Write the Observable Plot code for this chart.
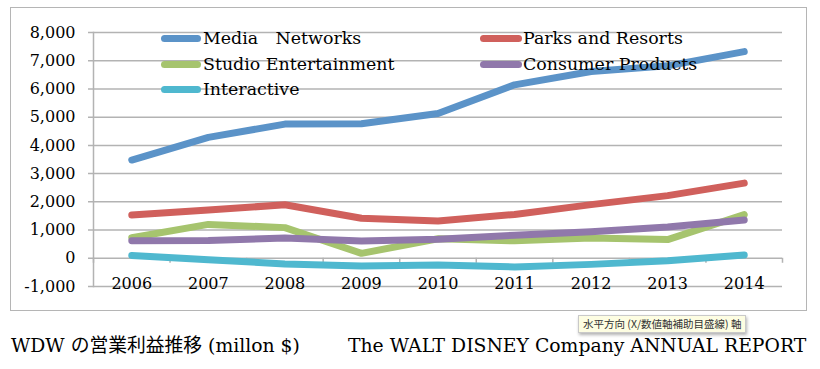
<!DOCTYPE html>
<html><head><meta charset="utf-8">
<script src="https://cdn.jsdelivr.net/npm/d3@7"></script>
<script src="https://cdn.jsdelivr.net/npm/@observablehq/plot@0.6"></script>
<style>
html,body{margin:0;padding:0;background:#fff;}
#wrap{position:relative;width:820px;height:369px;overflow:hidden;font-family:"DejaVu Serif","Noto Sans CJK JP",serif;color:#000;}
#box{position:absolute;left:10px;top:7px;width:797px;height:304px;border:1.5px solid #b5b5b5;box-sizing:border-box;}
#chart{position:absolute;left:0;top:0;}
.sw{position:absolute;height:7px;border-radius:4px;}
.lt{position:absolute;font-size:17.4px;line-height:20px;white-space:nowrap;}
.cap{position:absolute;top:335px;font-size:18.8px;line-height:22px;white-space:nowrap;}
#tip{position:absolute;left:578px;top:315px;height:16px;padding:0 4px;background:#fdfde2;border:1px solid #c9c9c9;box-shadow:1px 2px 3px rgba(0,0,0,.3);font-family:"Noto Sans CJK JP",sans-serif;font-size:10.5px;line-height:16px;color:#333;white-space:nowrap;}
</style></head><body>
<div id="wrap">
  <div id="box"></div>
  <div id="chart"></div>
  <div id="legend"></div>
  <div class="cap" style="left:11px">WDW の営業利益推移 (millon $)</div>
  <div class="cap" style="left:348px">The WALT DISNEY Company ANNUAL REPORT</div>
  <div id="tip">水平方向 (X/数値軸補助目盛線) 軸</div>
</div>
<script>
const years = [2006, 2007, 2008, 2009, 2010, 2011, 2012, 2013, 2014];
const seriesNames = ["Media\u3000Networks", "Parks and Resorts", "Studio Entertainment", "Consumer Products", "Interactive"];
const mediaNetworks = [3481, 4285, 4755, 4765, 5132, 6146, 6619, 6818, 7321];
const parksResorts = [1534, 1710, 1897, 1418, 1318, 1553, 1902, 2220, 2663];
const studioEntertainment = [729, 1201, 1086, 175, 693, 618, 722, 661, 1549];
const consumerProducts = [618, 631, 718, 609, 677, 816, 937, 1112, 1356];
const interactive = [100, -50, -200, -275, -235, -308, -216, -87, 116];
const seriesColors = ["#5b93c8", "#d0605c", "#a6c46e", "#9078ab", "#4fb8cf"];
const yTicks = [-1000, 0, 1000, 2000, 3000, 4000, 5000, 6000, 7000, 8000];

const seriesValues = [mediaNetworks, parksResorts, studioEntertainment, consumerProducts, interactive];
const data = seriesNames.flatMap((name, i) => seriesValues[i].map((v, j) => ({series: name, year: years[j], value: v})));
const boundaries = years.map(y => y - 0.5).concat([years[years.length - 1] + 0.5]);
const grid = "#b3b3b3";
const fmt = d3.format(",");
const yFormat = d => fmt(d).replace("\u2212", "-");

const chart = Plot.plot({
  width: 820, height: 312,
  marginLeft: 93, marginRight: 38, marginTop: 32, marginBottom: 26,
  x: {domain: [years[0] - 0.5, years[years.length - 1] + 0.5], label: null},
  y: {domain: [-1000, 8000], label: null},
  color: {domain: seriesNames, range: seriesColors},
  style: {fontFamily: "DejaVu Serif", fontSize: "16px", color: "#000", background: "transparent", overflow: "visible"},
  marks: [
    Plot.ruleY(yTicks, {stroke: grid, strokeWidth: 1.5, insetLeft: -5}),
    Plot.frame({anchor: "left", stroke: grid, strokeWidth: 1.5}),
    Plot.ruleX(boundaries, {x: d => d, y1: 0, y2: 0, insetBottom: -5, stroke: grid, strokeWidth: 1.5}),
    Plot.axisY({ticks: yTicks, tickSize: 0, tickPadding: 18, tickFormat: yFormat, fontSize: 16, label: null}),
    Plot.axisX({ticks: years, tickSize: 0, tickPadding: 0, lineAnchor: "middle", dy: -3, tickFormat: d => String(d), fontSize: 16, label: null}),
    Plot.line(data, {x: "year", y: "value", z: "series", stroke: "series", strokeWidth: 7, strokeLinecap: "round", strokeLinejoin: "round"})
  ]
});
document.getElementById("chart").appendChild(chart);

// legend (Excel row-wise order, two columns)
const legend = document.getElementById("legend");
const colX = [{sw: 161, swW: 40, tx: 203}, {sw: 480, swW: 42, tx: 523}];
const rowY = [38, 64, 89];
seriesNames.forEach((name, i) => {
  const c = colX[i % 2], r = rowY[Math.floor(i / 2)];
  const sw = document.createElement("div");
  sw.className = "sw";
  sw.style.cssText = `left:${c.sw}px;width:${c.swW}px;top:${r - 3.5}px;background:${seriesColors[i]}`;
  const t = document.createElement("div");
  t.className = "lt";
  t.style.cssText = `left:${c.tx}px;top:${r - 10}px`;
  t.textContent = name;
  legend.appendChild(sw);
  legend.appendChild(t);
});
</script>
</body></html>
